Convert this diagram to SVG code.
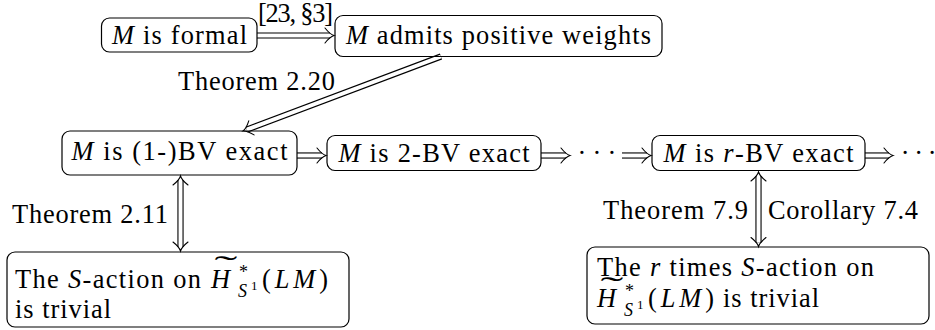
<svg xmlns="http://www.w3.org/2000/svg" xmlns:xlink="http://www.w3.org/1999/xlink" width="935" height="330" viewBox="0 0 935 330">
<style>
.box{fill:none;stroke:#000;stroke-width:1.2}
.t{font-family:'Liberation Serif','Times New Roman',serif;font-size:26.4px;fill:#000}
.i{font-style:italic}
.sm{font-size:18px}
.xs{font-size:13px}
.o{stroke:#000;stroke-width:6.2;fill:none}
.w{stroke:#fff;stroke-width:4;fill:none}
.hd{fill:none;stroke:#000;stroke-width:1.1;stroke-linecap:round}
</style>
<defs>
<path id="imp" class="hd" d="M-9,-7.5 Q-4,-1.2 0,0 Q-4,1.2 -9,7.5"/>
</defs>
<rect width="935" height="330" fill="#fff"/>
<g id="connectors">
  <g id="e-formal-weights">
    <line class="o" x1="257" y1="35.5" x2="330" y2="35.5"/><line class="w" x1="257" y1="35.5" x2="330" y2="35.5"/>
    <use xlink:href="#imp" transform="translate(334,35.5)"/>
  </g>
  <g id="e-weights-bv1">
    <line class="o" x1="441" y1="56.5" x2="246.7" y2="129.6"/><line class="w" x1="441" y1="56.5" x2="246.7" y2="129.6"/>
    <use xlink:href="#imp" transform="translate(243,131) rotate(159.38)"/>
  </g>
  <g id="e-bv1-bv2">
    <line class="o" x1="297" y1="155.5" x2="322" y2="155.5"/><line class="w" x1="297" y1="155.5" x2="322" y2="155.5"/>
    <use xlink:href="#imp" transform="translate(326,155.5)"/>
  </g>
  <g id="e-bv2-dots">
    <line class="o" x1="541" y1="155.5" x2="566" y2="155.5"/><line class="w" x1="541" y1="155.5" x2="566" y2="155.5"/>
    <use xlink:href="#imp" transform="translate(570,155.5)"/>
  </g>
  <g id="e-dots-bvr">
    <line class="o" x1="622" y1="155.5" x2="647" y2="155.5"/><line class="w" x1="622" y1="155.5" x2="647" y2="155.5"/>
    <use xlink:href="#imp" transform="translate(651,155.5)"/>
  </g>
  <g id="e-bvr-dots">
    <line class="o" x1="865" y1="155.5" x2="889" y2="155.5"/><line class="w" x1="865" y1="155.5" x2="889" y2="155.5"/>
    <use xlink:href="#imp" transform="translate(893,155.5)"/>
  </g>
  <g id="e-bv1-trivial">
    <line class="o" x1="180.5" y1="180" x2="180.5" y2="247"/><line class="w" x1="180.5" y1="180" x2="180.5" y2="247"/>
    <use xlink:href="#imp" transform="translate(180.5,176) rotate(-90)"/>
    <use xlink:href="#imp" transform="translate(180.5,251) rotate(90)"/>
  </g>
  <g id="e-bvr-rtrivial">
    <line class="o" x1="758.5" y1="176" x2="758.5" y2="242.5"/><line class="w" x1="758.5" y1="176" x2="758.5" y2="242.5"/>
    <use xlink:href="#imp" transform="translate(758.5,172) rotate(-90)"/>
    <use xlink:href="#imp" transform="translate(758.5,246.5) rotate(90)"/>
  </g>
  <text class="t" x="295.5" y="22" text-anchor="middle" textLength="75">[23, §3]</text>
  <text class="t" x="178" y="90" textLength="157">Theorem 2.20</text>
  <text class="t" x="12" y="223" textLength="156">Theorem 2.11</text>
  <text class="t" x="603" y="219" textLength="145">Theorem 7.9</text>
  <text class="t" x="768" y="219" textLength="150">Corollary 7.4</text>
</g>
<g id="n-formal">
  <rect class="box" x="101.5" y="18" width="155.5" height="34" rx="8"/>
  <text class="t" x="179.5" y="44" text-anchor="middle" textLength="135"><tspan class="i">M</tspan> is formal</text>
</g>
<g id="n-weights">
  <rect class="box" x="335" y="15.5" width="327" height="41" rx="8"/>
  <text class="t" x="498.5" y="44" text-anchor="middle" textLength="305"><tspan class="i">M</tspan> admits positive weights</text>
</g>
<g id="n-bv1">
  <rect class="box" x="62" y="131" width="235" height="44" rx="8"/>
  <text class="t" x="179.5" y="159.5" text-anchor="middle" textLength="216"><tspan class="i">M</tspan> is (1-)BV exact</text>
</g>
<g id="n-bv2">
  <rect class="box" x="327" y="135.5" width="214" height="35" rx="8"/>
  <text class="t" x="434" y="162" text-anchor="middle" textLength="191"><tspan class="i">M</tspan> is 2-BV exact</text>
</g>
<g id="n-dots1">
  <text class="t" x="577.4 592.4 607.4" y="162.2">···</text>
</g>
<g id="n-bvr">
  <rect class="box" x="652" y="135.5" width="213" height="35" rx="8"/>
  <text class="t" x="758.5" y="162" text-anchor="middle" textLength="190"><tspan class="i">M</tspan> is <tspan class="i">r</tspan>-BV exact</text>
</g>
<g id="n-dots2">
  <text class="t" x="900.7 914.2 927.7" y="162.2">···</text>
</g>
<g id="n-trivial">
  <rect class="box" x="7" y="252" width="342" height="75" rx="8"/>
  <text class="t" x="15" y="288" textLength="186">The <tspan class="i">S</tspan>-action on</text>
  <text class="t i" x="211" y="288">H</text>
  <text class="t" transform="translate(226,276) scale(2.6,1.1)" text-anchor="middle">˜</text>
  <text class="t sm" x="239" y="278">*</text>
  <text class="t sm i" x="238" y="297">S</text>
  <text class="t xs" x="251" y="290">1</text>
  <text class="t" x="262" y="288" textLength="66">(<tspan class="i">LM</tspan>)</text>
  <text class="t" x="15" y="318" textLength="96">is trivial</text>
</g>
<g id="n-rtrivial">
  <rect class="box" x="587" y="247" width="342" height="77" rx="8"/>
  <text class="t" x="597" y="276" textLength="277">The <tspan class="i">r</tspan> times <tspan class="i">S</tspan>-action on</text>
  <text class="t i" x="597" y="307">H</text>
  <text class="t" transform="translate(612,297) scale(2.6,1.1)" text-anchor="middle">˜</text>
  <text class="t sm" x="625" y="297">*</text>
  <text class="t sm i" x="624" y="316">S</text>
  <text class="t xs" x="637" y="309">1</text>
  <text class="t" x="648" y="307" textLength="66">(<tspan class="i">LM</tspan>)</text>
  <text class="t" x="723" y="307" textLength="96">is trivial</text>
</g>
</svg>
